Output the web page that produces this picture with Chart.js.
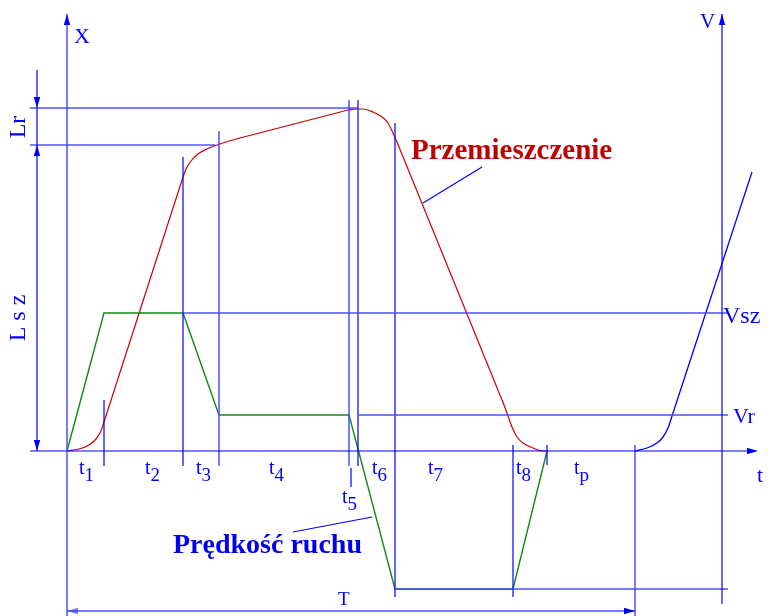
<!DOCTYPE html>
<html><head><meta charset="utf-8">
<script src="https://cdn.jsdelivr.net/npm/chart.js@4"></script>
<style>html,body{margin:0;padding:0;background:#fff}#wrap{width:768px;height:616px}</style>
</head><body><div id="wrap"><canvas id="c" width="768" height="616"></canvas></div>
<script>
// Displacement curve (Przemieszczenie): time vs position
const dispTime  = [0,12,22,29,34,37, 116,119,124,131,140,150,162,173, 281,290,296,306,315,321,326,330, 435,440,445,450,456,466,476,481];
const dispValue = [0,2,6,12,20,29, 274,282,290,297,302,306,310,313, 341,342,342,339,334,328,318,309, 51,38,24,14,8,3,0,0];
// index ranges of the rounded (bend) parts; straight lines join them
const dispBends = [[0,5],[6,13],[14,21],[22,29]];
// Start of next cycle
const nextTime  = [568,580,590,596,601,606,685];
const nextValue = [0,3,8,14,23,38,279];
const nextBends = [[0,5]];
// Velocity (Prędkość ruchu)
const velTime  = [0,37,116,152,282,328,446,480];
const velValue = [0,138,138,36,36,-138,-138,0];
// Time marks t1..tp boundaries, and V axis position
const timeMarks = [0,37,116,152,282,291,328,446,480,568];
const timeLabels = ['1','2','3','4','5','6','7','8','p'];
const vAxisTime = 655;
// Levels
const levelLr = 343, levelLsz = 306, levelVsz = 138, levelVr = 36, levelVmin = -138;

const DARK = '#0000ff';
const LIGHT = 'rgba(70,70,255,0.72)';
const RED = '#cc0000';
const GREEN = '#108a10';

function pts(xs, ys){ return xs.map((x,i)=>({x:x,y:ys[i]})); }
function seg(x1,y1,x2,y2,color,w){
  return {data:[{x:x1,y:y1},{x:x2,y:y2}],showLine:true,borderColor:color,borderWidth:w||1.2,pointRadius:0,tension:0,fill:false};
}
function smoothPath(xs, ys, bends, color, w){
  const out=[]; const p=pts(xs,ys);
  bends.forEach((b,k)=>{
    out.push({data:p.slice(b[0],b[1]+1),showLine:true,borderColor:color,borderWidth:w,pointRadius:0,cubicInterpolationMode:'monotone',fill:false});
    const nextStart = k+1<bends.length ? bends[k+1][0] : p.length;
    if(b[1]+1 < p.length){
      out.push({data:p.slice(b[1],nextStart+1 > p.length ? p.length : Math.min(nextStart+1,p.length)),showLine:true,borderColor:color,borderWidth:w,pointRadius:0,tension:0,fill:false});
    }
  });
  return out;
}
const tm = timeMarks;
const datasets = [
  // axes
  seg(0,-165,0,437,LIGHT,2),
  seg(vAxisTime,-153,vAxisTime,437,DARK,1.2),
  seg(-37,0,680,0,DARK,1.2),
  // level lines
  seg(-37,levelLr,tm[5],levelLr,LIGHT,2),
  seg(-37,levelLsz,148,levelLsz,DARK,1.2),
  seg(tm[2],levelVsz,vAxisTime+6,levelVsz,LIGHT,2),
  seg(tm[5],levelVr,vAxisTime+6,levelVr,LIGHT,2),
  seg(tm[6],levelVmin,vAxisTime+6,levelVmin,LIGHT,2),
  // dimension lines
  seg(-30,381,-30,0,DARK,1.2),
  seg(0,-160,tm[9],-160,LIGHT,2),
  // vertical time marks
  seg(tm[1],51,tm[1],-15,DARK,1.2),
  seg(tm[2],294,tm[2],-15,DARK,1.2),
  seg(tm[3],320,tm[3],-15,LIGHT,2),
  seg(tm[4],351,tm[4],-15,LIGHT,2),
  seg(tm[4]+2,-17,tm[4]+2,-36,DARK,1.2),
  seg(tm[5],351,tm[5],-15,DARK,1.2),
  seg(tm[6],328,tm[6],-146,DARK,1.2),
  seg(tm[7],6,tm[7],-146,DARK,1.2),
  seg(tm[8],6,tm[8],-14,DARK,1.2),
  seg(tm[9],6,tm[9],-165,LIGHT,2),
  // leader lines
  seg(356,248,415,284,DARK,1.2),
  seg(226,-81,305,-66,DARK,1.2),
  // curves
  {data:pts(velTime,velValue),showLine:true,borderColor:GREEN,borderWidth:1.4,pointRadius:0,tension:0,fill:false}
].concat(smoothPath(dispTime,dispValue,dispBends,RED,1.2))
 .concat(smoothPath(nextTime,nextValue,nextBends,DARK,1.3));

const deco = {
  id:'deco',
  afterDatasetsDraw(chart){
    const ctx = chart.ctx, X = chart.scales.x, Y = chart.scales.y;
    const px = v=>X.getPixelForValue(v), py = v=>Y.getPixelForValue(v);
    function arrow(x,y,dir,color){
      const L=11,W=3.2; const tx=px(x), ty=py(y);
      ctx.save(); ctx.fillStyle=color||DARK; ctx.beginPath(); ctx.moveTo(tx,ty);
      if(dir==='up'){ctx.lineTo(tx-W,ty+L);ctx.lineTo(tx+W,ty+L);}
      if(dir==='down'){ctx.lineTo(tx-W,ty-L);ctx.lineTo(tx+W,ty-L);}
      if(dir==='right'){ctx.lineTo(tx-L,ty-W);ctx.lineTo(tx-L,ty+W);}
      if(dir==='left'){ctx.lineTo(tx+L,ty-W);ctx.lineTo(tx+L,ty+W);}
      ctx.closePath(); ctx.fill(); ctx.restore();
    }
    arrow(0,437,'up'); arrow(vAxisTime,437,'up'); arrow(691,0,'right');
    arrow(-30,levelLr,'down'); arrow(-30,levelLsz,'up'); arrow(-30,0,'down');
    arrow(0,-160,'left',LIGHT); arrow(tm[9],-160,'right');
    function text(s,x,y,font,color){
      ctx.save(); ctx.font=font; ctx.fillStyle=color||DARK; ctx.textBaseline='alphabetic'; ctx.textAlign='left';
      ctx.fillText(s,px(x),py(y)); ctx.restore();
    }
    const F = '"Liberation Serif", "Times New Roman", serif';
    text('X',7,408,'22px '+F);
    text('V',633,423,'21px '+F);
    text('t',690,-31,'22px '+F);
    text('Vsz',656,128,'24px '+F);
    text('Vr',666,28,'22px '+F);
    text('T',271,-154,'19px '+F);
    text('Przemieszczenie',344,292,'bold 29px '+F,'#c00000');
    text('Prędkość ruchu',106,-102,'bold 28px '+F,'#0000ee');
    // rotated labels
    function rtext(s,x,y,font,spacing){
      ctx.save(); ctx.font=font; ctx.fillStyle=DARK; ctx.translate(px(x),py(y)); ctx.rotate(-Math.PI/2);
      if(spacing){ ctx.letterSpacing=spacing; }
      ctx.textAlign='center'; ctx.textBaseline='middle'; ctx.fillText(s,0,0); ctx.restore();
    }
    rtext('Lr',-48,324,'24px '+F);
    rtext('Lsz',-48,136,'24px '+F,'6px');
    // t labels
    const tpos = [[12,-23],[78,-23],[129,-23],[202,-23],[275,-52],[305,-23],[361,-23],[449,-23],[507,-23]];
    timeLabels.forEach((lab,i)=>{
      const x=px(tpos[i][0]), y=py(tpos[i][1]);
      ctx.save(); ctx.fillStyle=DARK; ctx.font='20px '+F; ctx.fillText('t',x,y);
      const w=ctx.measureText('t').width; ctx.font='19px '+F; ctx.fillText(lab,x+w,y+7); ctx.restore();
    });
  }
};

new Chart(document.getElementById('c'),{
  type:'scatter',
  data:{datasets:datasets},
  options:{
    responsive:false, animation:false, events:[],
    layout:{padding:0},
    plugins:{legend:{display:false},tooltip:{enabled:false},title:{display:false}},
    scales:{
      x:{type:'linear',min:-67,max:701,display:false},
      y:{type:'linear',min:-165,max:451,display:false}
    }
  },
  plugins:[deco]
});
</script></body></html>
